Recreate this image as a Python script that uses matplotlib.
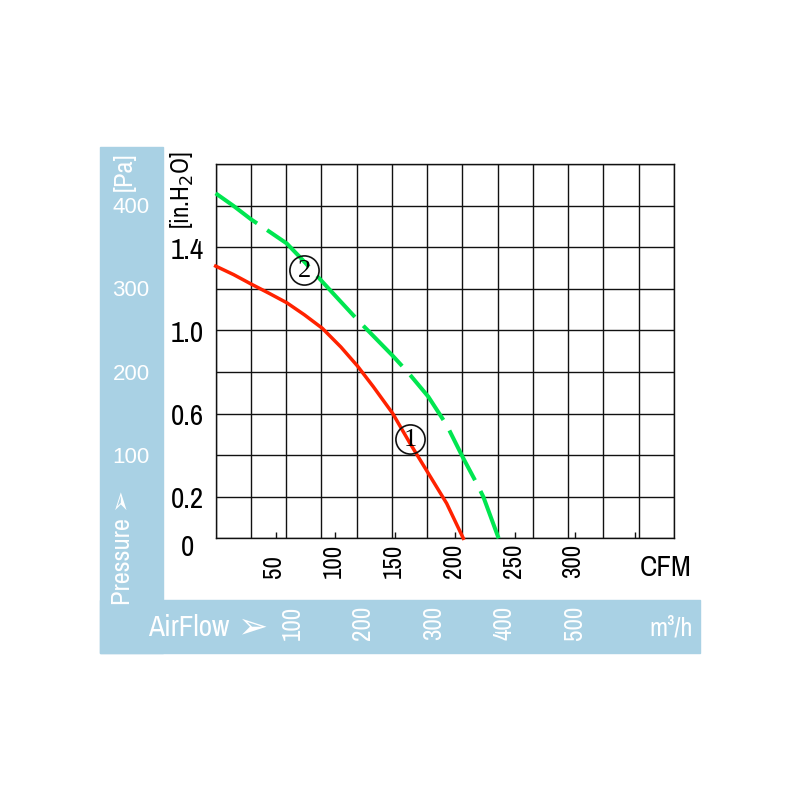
import matplotlib.pyplot as plt
from matplotlib import font_manager as fm
from matplotlib.patches import Rectangle

# fan curves, airflow in CFM, static pressure in in.H2O
cfm_1 = [0, 15, 29.5, 44, 59.3, 74, 89, 104.5, 118.3, 131.6, 147.7, 162.2, 177.5, 192.8, 206.7]
pres_1 = [1.309, 1.268, 1.223, 1.18, 1.133, 1.075, 1.010, 0.92, 0.829, 0.729, 0.601, 0.457,
          0.3125, 0.168, 0.0]

cfm_2 = [0, 15, 29.5, 44, 59.3, 74, 89, 118.5, 147.9, 160.8, 177.5, 192.8, 206.7, 217.9, 223.4,
         236.2]
pres_2 = [1.659, 1.598, 1.534, 1.478, 1.418, 1.33, 1.234, 1.05, 0.877, 0.796, 0.681, 0.545,
          0.385, 0.264, 0.2, 0.0]

# axis labels
inh2o_labels = [1.4, 1.0, 0.6, 0.2]
pa_labels = [400, 300, 200, 100]
cfm_labels = [50, 100, 150, 200, 250, 300]
cfm_ticks = [50, 100, 150, 200, 250, 300, 350]
m3h_labels = [100, 200, 300, 400, 500]

M3H_PER_CFM = 1.699
PA_PER_INH2O = 249.09
BLUE = "#a9d1e4"

# pick a narrow sans face if one is there, otherwise plain sans
installed = {f.name for f in fm.fontManager.ttflist}
narrow = next((n for n in ["Liberation Sans Narrow", "Arial Narrow", "Archivo Narrow",
                           "PT Sans Narrow", "Roboto Condensed", "Open Sans Condensed"]
               if n in installed), "Liberation Sans")
NARROW = [narrow, "DejaVu Sans"]

fig = plt.figure(figsize=(8, 8), dpi=100)
fig.patch.set_facecolor("white")

# light blue bands (left and bottom)
fig.patches.append(Rectangle((0.125, 0.18375), 0.0784, 0.6325,
                             transform=fig.transFigure, color=BLUE, zorder=-1))
fig.patches.append(Rectangle((0.125, 0.18375), 0.75, 0.06625,
                             transform=fig.transFigure, color=BLUE, zorder=-1))

ax = fig.add_axes([0.2696, 0.3271, 0.5729, 0.4679])
ax.set_xlim(0, 650 / M3H_PER_CFM)
ax.set_ylim(0, 1.8)

# grid: columns every 50 m3/h, rows every 0.2 in.H2O
ax.set_xticks([k * 50 / M3H_PER_CFM for k in range(14)])
ax.set_yticks([k * 0.2 for k in range(10)])
ax.set_xticklabels([])
ax.set_yticklabels([])
ax.tick_params(which="major", length=0)
ax.grid(True, color="#111111", linewidth=1.0)
ax.set_xticks(cfm_ticks, minor=True)
ax.tick_params(which="minor", axis="x", direction="in", length=4, width=1.0, color="#111111")
for s in ax.spines.values():
    s.set_color("#111111")
    s.set_linewidth(1.0)

ax.plot(cfm_1, pres_1, color="#ff2200", lw=2.5, zorder=3, clip_on=False,
        solid_joinstyle="round")
ax.plot(cfm_2, pres_2, color="#00e650", lw=2.9, linestyle=(1.2, (13.9, 3.0)),
        zorder=3, clip_on=False)

# curve markers 1 and 2
for num, (cx, cy) in [("1", (162.2, 0.48)), ("2", (74, 1.29))]:
    ax.plot(cx, cy, marker="o", markersize=21, mfc="none", mec="#111111", mew=1.2, zorder=4)
    ax.text(cx, cy - 0.005, num, ha="center", va="center", fontsize=19,
            family=["Liberation Serif", "DejaVu Serif"], zorder=5)

# left labels
for v in inh2o_labels:
    ax.annotate(f"{v:.1f}", xy=(0, v), xytext=(-28.7, -3), textcoords="offset pixels",
                ha="center", va="center", fontsize=21, family=NARROW, annotation_clip=False)
ax.annotate("0", xy=(0, 0), xytext=(-28, -9), textcoords="offset pixels",
            ha="center", va="center", fontsize=21, family=NARROW, annotation_clip=False)
for v in pa_labels:
    ax.annotate(str(v), xy=(0, v / PA_PER_INH2O), xytext=(-84.7, -3), textcoords="offset pixels",
                ha="center", va="center", fontsize=16, color="white",
                family=["Liberation Sans", "DejaVu Sans"], annotation_clip=False)

# bottom labels
for v in cfm_labels:
    ax.annotate(str(v), xy=(v, 0), xytext=(-2, -40), textcoords="offset pixels",
                ha="center", va="bottom", rotation=90, fontsize=18, family=NARROW,
                annotation_clip=False)
for v in m3h_labels:
    ax.annotate(str(v), xy=(v / M3H_PER_CFM, 0), xytext=(6, -101.7), textcoords="offset pixels",
                ha="center", va="bottom", rotation=90, fontsize=18, color="white",
                family=NARROW, annotation_clip=False)

fig.text(666 / 800, 1 - 567 / 800, "CFM", ha="center", va="center", fontsize=21, family=NARROW)
fig.text(148 / 800, 1 - 628 / 800, "AirFlow", ha="left", va="center", fontsize=21,
         color="white", family=NARROW)
fig.text(238 / 800, 1 - 627 / 800, "\u27a2", ha="left", va="center", fontsize=26,
         color="white", family=["DejaVu Sans"])
fig.text(671 / 800, 1 - 628 / 800, "m\u00b3/h", ha="center", va="center", fontsize=19,
         color="white", family=NARROW)
fig.text(122 / 800, 1 - 605 / 800, "Pressure \u27a2", ha="center", va="bottom", rotation=90,
         fontsize=19, color="white", family=NARROW)
fig.text(124 / 800, 1 - 172 / 800, "[Pa]", ha="center", va="center", rotation=90,
         fontsize=19, color="white", family=NARROW)
fig.text(182 / 800, 1 - 190 / 800, "[in.H$_2$O]", ha="center", va="center", rotation=90,
         fontsize=18, family=NARROW)

fig.savefig("out.png", dpi=100)
